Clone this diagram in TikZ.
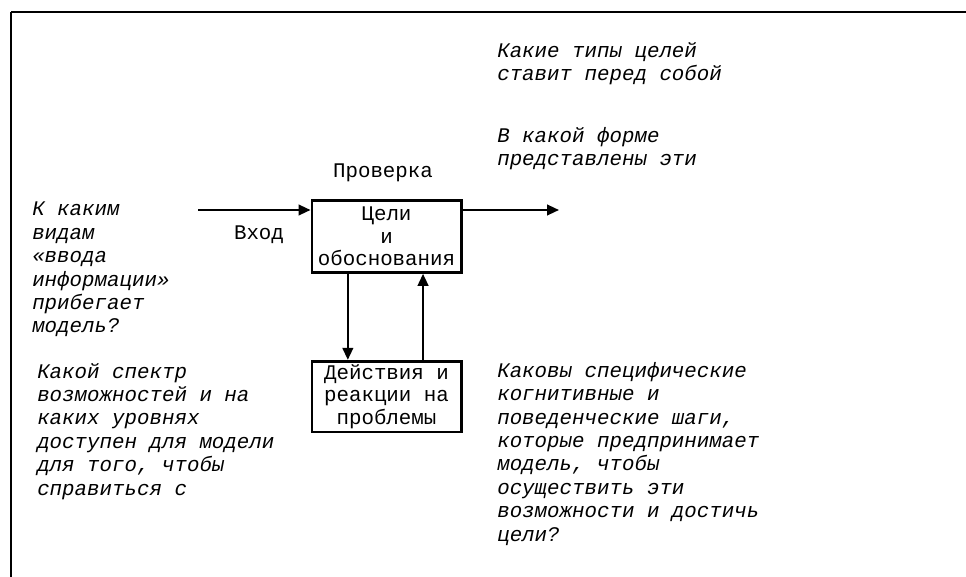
\documentclass[tikz,border=0pt]{standalone}
\usepackage{fontspec}
\setmonofont{Liberation Mono}
\usepackage{tikz}
\usetikzlibrary{arrows.meta,positioning,calc}
\tikzset{
    block/.style={
        rectangle,
        draw,
        line width=2pt,
        align=center,
        minimum width=112pt,
        minimum height=54pt,
        inner sep=0pt,
        font=\ttfamily\fontsize{15.6}{16.8}\selectfont
    },
    question/.style={
        anchor=north west,
        align=left,
        inner sep=0pt,
        font=\ttfamily\itshape\fontsize{15.6}{17.55}\selectfont
    },
    caption/.style={inner sep=0pt, font=\ttfamily\fontsize{15.6}{17}\selectfont},
    flow/.style={line width=1.6pt, -{Triangle[length=9pt,width=8pt]}}
}
\begin{document}
\begin{tikzpicture}[x=0.75pt, y=-0.75pt]
    \useasboundingbox (0,0) rectangle (966,577);
    % frame lines
    \draw [line width=1.5pt] (11,12) -- (11,577);
    \draw [line width=0.8pt] (11,12) -- (966,12);

    \node (goals) [block] at (386.5,236.5) {Цели\\и\\обоснования};
    \node (actions) [block, minimum height=53pt] at (386.5,396.5) {Действия и\\реакции на\\проблемы};

    \node (check) [caption] at (383,173) {Проверка};
    \node (input) [caption] at (259,235) {Вход};

    \coordinate (in) at (198,210);
    \coordinate (out) at (559,210);
    \draw [flow] (in) -- (in -| goals.west);
    \draw [flow] (goals.east |- out) -- (out);
    \draw [flow] ([xshift=-29pt]goals.south) -- ([xshift=-29pt]actions.north);
    \draw [flow] ([xshift=27.4pt]actions.north) -- ([xshift=27.4pt]goals.south);

    \node (kinds) [question] at (32,202) {К каким\\видам\\«ввода\\информации»\\прибегает\\модель?};
    \node (range) [question] at (37,363) {Какой спектр\\возможностей и на\\каких уровнях\\доступен для модели\\для того, чтобы\\справиться с};
    \node (steps) [question] at (497,362) {Каковы специфические\\когнитивные и\\поведенческие шаги,\\которые предпринимает\\модель, чтобы\\осуществить эти\\возможности и достичь\\цели?};
    \node (types) [question] at (497,42) {Какие типы целей\\ставит перед собой};
    \node (form) [question] at (497,127) {В какой форме\\представлены эти};
\end{tikzpicture}
\end{document}
